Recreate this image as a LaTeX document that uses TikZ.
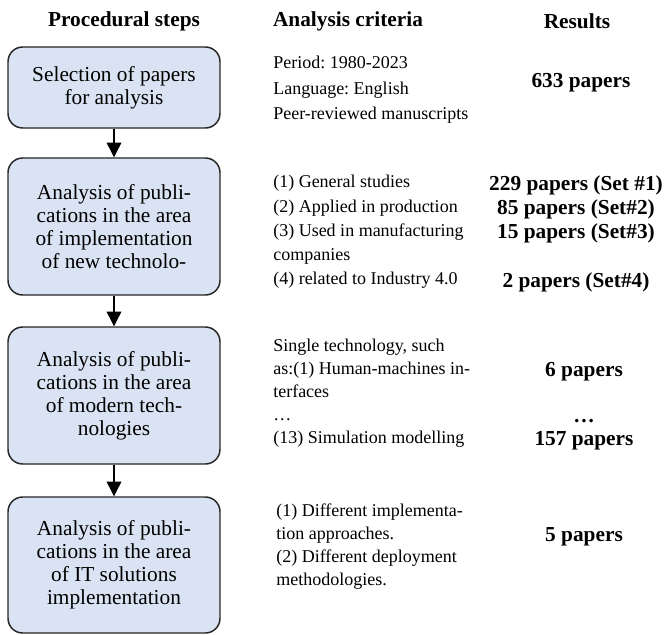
\documentclass[tikz,border=0pt]{standalone}
\usepackage{fontspec}
\setmainfont{Liberation Serif}
\frenchspacing
\usetikzlibrary{arrows.meta, positioning}

\definecolor{stepblue}{HTML}{DAE3F3}

\tikzset{
	stepbox/.style = {draw=black!85, line width=1.1pt, fill=stepblue, rounded corners=11pt,
		minimum width=159pt, align=center, inner sep=0pt,
		font=\fontsize{16}{17.3}\selectfont},
	crit/.style = {anchor=north west, align=left, inner sep=0pt,
		font=\fontsize{13.5}{#1}\selectfont, execute at begin node=\strut},
	crit/.default = 17.25,
	res/.style = {anchor=north, align=center, inner sep=0pt,
		font=\fontsize{16}{#1}\selectfont\bfseries, execute at begin node=\strut},
	res/.default = 17.25,
	head/.style = {inner sep=0pt, font=\fontsize{16}{17}\selectfont\bfseries},
	flow/.style = {-{Triangle[length=11pt, width=11pt]}, line width=1pt}
}

\begin{document}
\begin{tikzpicture}[x=0.75pt, y=-0.75pt]
	\useasboundingbox (0,0) rectangle (664,635);

	% column titles
	\node[head] (hsteps) at (124,21) {Procedural steps};
	\node[head] (hcrit) at (348,21) {Analysis criteria};
	\node[head] (hres) at (577,21) {Results};

	% procedural steps
	\node[stepbox, minimum height=60.75pt] (step1) at (114,87.5)
		{Selection of papers\\for analysis};
	\node[stepbox, minimum height=102.75pt] (step2) at (114,226.5)
		{Analysis of publi-\\cations in the area\\of implementation\\of new technolo-};
	\node[stepbox, minimum height=102.75pt] (step3) at (114,395.5)
		{Analysis of publi-\\cations in the area\\of modern tech-\\nologies};
	\node[stepbox, minimum height=102pt] (step4) at (114,565)
		{Analysis of publi-\\cations in the area\\of IT solutions\\implementation};

	\draw[flow] (step1) -- (step2);
	\draw[flow] (step2) -- (step3);
	\draw[flow] (step3) -- (step4);

	% criteria
	\node[crit=19] (crit1) at (273,56)
		{Period: 1980-2023\\Language: English\\Peer-reviewed manuscripts};
	\node[crit=18.2] (crit2) at (273,175)
		{(1) General studies\\(2) Applied in production\\(3) Used in manufacturing\\companies\\(4) related to Industry 4.0};
	\node[crit] (crit3) at (273,339)
		{Single technology, such\\as:(1) Human-machines in-\\terfaces\\…\\(13) Simulation modelling};
	\node[crit] (crit4) at (276,504)
		{(1) Different implementa-\\tion approaches.\\(2) Different deployment\\methodologies.};

	% results
	\node[res, anchor=center, execute at begin node={}] (res1) at (581,83) {633 papers};
	\node[res=18.2] (res2) at (576,175)
		{229 papers (Set \#1)\\85 papers (Set\#2)\\15 papers (Set\#3)\\\phantom{0}\\2 papers (Set\#4)};
	\node[res] (res3) at (584,339)
		{\phantom{0}\\6 papers\\\phantom{0}\\…\\157 papers};
	\node[res] (res4) at (584,504)
		{\phantom{0}\\5 papers};
\end{tikzpicture}
\end{document}
